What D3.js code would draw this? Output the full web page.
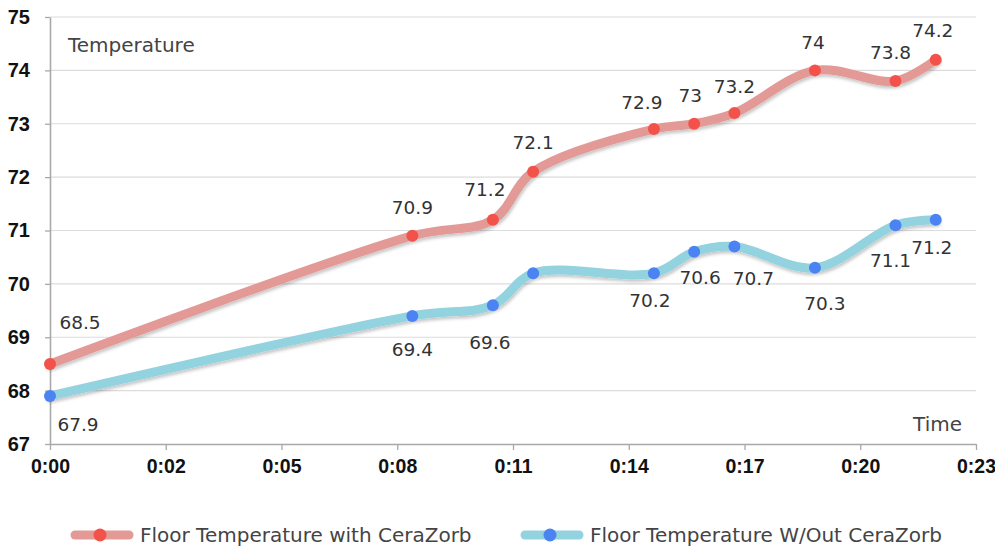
<!DOCTYPE html>
<html>
<head>
<meta charset="utf-8">
<script src="https://cdn.jsdelivr.net/npm/d3@7"></script>
<style>
  body { margin: 0; background: #fff; }
  svg { font-family: "DejaVu Sans", sans-serif; }
  .tick text { font-family: "Liberation Sans", Arial, sans-serif; font-weight: bold; fill: #111; }
</style>
</head>
<body>
<div id="chart"></div>
<script>
// data
var minutes = [0, 9, 11, 12, 15, 16, 17, 19, 21, 22];
var withCera = [68.5, 70.9, 71.2, 72.1, 72.9, 73, 73.2, 74, 73.8, 74.2];
var withoutCera = [67.9, 69.4, 69.6, 70.2, 70.2, 70.6, 70.7, 70.3, 71.1, 71.2];
var xTicks = [0, 2.875, 5.75, 8.625, 11.5, 14.375, 17.25, 20.125, 23];
var yTicks = [67, 68, 69, 70, 71, 72, 73, 74, 75];
var seriesNames = ["Floor Temperature with CeraZorb", "Floor Temperature W/Out CeraZorb"];

// label placement (dx, dy from point), null = no label
var redLabelPos = [[30,-41],[0,-28],[-8,-30],[0,-29],[-12,-27],[-4,-28],[0,-27],[-2,-28],[-5,-29],[-3,-29]];
var blueLabelPos = [[28,29],[0,34],[-3,37],null,[-4,27],[6,26],[19,32],[10,36],[-5,35],[-4,28]];

var W = 995, H = 548;
var m = {l: 50, r: 19, t: 17, b: 104};

var svg = d3.select("#chart").append("svg")
  .attr("width", W)
  .attr("height", H);

var defs = svg.append("defs");
var f = defs.append("filter").attr("id", "shadow")
  .attr("x", "-5%").attr("y", "-20%").attr("width", "110%").attr("height", "140%");
f.append("feDropShadow").attr("dx", 1).attr("dy", 2.5).attr("stdDeviation", 1.8)
  .attr("flood-color", "#000").attr("flood-opacity", 0.22);

var x = d3.scaleLinear().domain([0, 23]).range([m.l, W - m.r]);
var y = d3.scaleLinear().domain([67, 75]).range([H - m.b, m.t]);

// grid
svg.append("g").selectAll("line")
  .data(yTicks.slice(1))
  .join("line")
  .attr("x1", x(0)).attr("x2", x(23))
  .attr("y1", d => y(d)).attr("y2", d => y(d))
  .attr("stroke", "#dcdcdc").attr("stroke-width", 1.2);

// axes
var yAxis = svg.append("g")
  .attr("transform", "translate(" + x(0) + ",0)")
  .call(d3.axisLeft(y).tickValues(yTicks).tickSize(5).tickSizeOuter(0).tickPadding(15));
var xAxis = svg.append("g")
  .attr("transform", "translate(0," + y(67) + ")")
  .call(d3.axisBottom(x).tickValues(xTicks).tickSize(6).tickSizeOuter(0).tickPadding(9)
    .tickFormat(d => "0:" + d3.format("02d")(Math.floor(d))));

[yAxis, xAxis].forEach(function(a) {
  a.select(".domain").attr("stroke", "#a9a9a9").attr("stroke-width", 1.6);
  a.selectAll(".tick line").attr("stroke", "#a9a9a9").attr("stroke-width", 1.3);
  a.selectAll(".tick text").style("font-size", "20px");
});
xAxis.selectAll(".tick text").style("font-size", "19.5px");

// axis titles
svg.append("text").attr("x", 68).attr("y", 52)
  .attr("font-size", 20).attr("fill", "#444").text("Temperature");
svg.append("text").attr("x", 962).attr("y", 431).attr("text-anchor", "end")
  .attr("font-size", 20).attr("fill", "#444").text("Time");

var line = d3.line()
  .x((d, i) => x(minutes[i]))
  .y(d => y(d))
  .curve(d3.curveCatmullRom.alpha(0.5));

var series = [
  {vals: withCera, line: "#e39a97", dot: "#f3524b", pos: redLabelPos},
  {vals: withoutCera, line: "#93d2df", dot: "#4b84f2", pos: blueLabelPos}
];

series.forEach(function(s) {
  var g = svg.append("g");
  g.append("path")
    .attr("d", line(s.vals))
    .attr("fill", "none")
    .attr("stroke", s.line)
    .attr("stroke-width", 9)
    .attr("stroke-linecap", "round")
    .attr("stroke-linejoin", "round")
    .attr("filter", "url(#shadow)");
  g.selectAll("circle")
    .data(s.vals)
    .join("circle")
    .attr("cx", (d, i) => x(minutes[i]))
    .attr("cy", d => y(d))
    .attr("r", 6)
    .attr("fill", s.dot);
  g.selectAll("text")
    .data(s.vals.map((v, i) => ({v: v, i: i})).filter(d => s.pos[d.i]))
    .join("text")
    .attr("x", d => x(minutes[d.i]) + s.pos[d.i][0])
    .attr("y", d => y(d.v) + s.pos[d.i][1])
    .attr("text-anchor", "middle")
    .attr("dominant-baseline", "central")
    .attr("font-size", 18.5)
    .attr("fill", "#333")
    .text(d => d.v);
});

// legend
var legendX = [75, 525];
seriesNames.forEach(function(name, i) {
  var s = series[i];
  var g = svg.append("g").attr("transform", "translate(" + legendX[i] + ",535)");
  g.append("line").attr("x1", 0).attr("x2", 54).attr("y1", 0).attr("y2", 0)
    .attr("stroke", s.line).attr("stroke-width", 9).attr("stroke-linecap", "round");
  g.append("circle").attr("cx", 25).attr("cy", 0).attr("r", 6.5).attr("fill", s.dot);
  g.append("text").attr("x", 65).attr("y", 0).attr("dominant-baseline", "central")
    .attr("font-size", 20).attr("fill", "#444").text(name);
});
</script>
</body>
</html>
